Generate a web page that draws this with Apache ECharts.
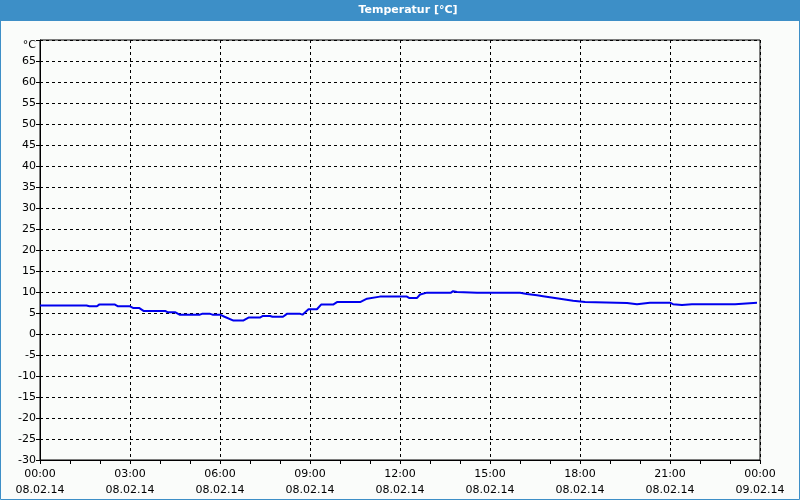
<!DOCTYPE html>
<html>
<head>
<meta charset="utf-8">
<script src="https://cdn.jsdelivr.net/npm/echarts@6/dist/echarts.min.js"></script>
<style>
  html, body { margin: 0; padding: 0; background: #fafcfa; }
  #chart { width: 800px; height: 500px; }
</style>
</head>
<body>
<div id="chart"></div>
<script>
// Messzeitpunkte (Stunden ab 08.02.14 00:00) und Temperatur in °C
var hours = [0, 1.55, 1.65, 1.9, 1.97, 2.5, 2.6, 3.0, 3.1, 3.3, 3.45, 4.17, 4.25, 4.5, 4.65, 5.33, 5.4, 5.67,
    5.75, 6.0, 6.15, 6.45, 6.77, 6.95, 7.33, 7.43, 7.67, 7.75, 8.1, 8.23, 8.67, 8.75, 8.95, 9.23, 9.37, 9.77,
    9.9, 10.67, 10.9, 11.33, 12.23, 12.3, 12.57, 12.67, 12.9, 13.7, 13.77, 13.9, 14.57, 16.0, 16.23, 16.57,
    16.77, 17.33, 17.77, 18.17, 19.57, 19.9, 20.33, 21.0, 21.1, 21.4, 21.73, 23.17, 23.23, 23.9];
var temps = [6.8, 6.8, 6.6, 6.6, 7.0, 7.0, 6.6, 6.6, 6.2, 6.2, 5.5, 5.5, 5.2, 5.2, 4.6, 4.6, 4.8, 4.8,
    4.6, 4.6, 4.1, 3.2, 3.2, 3.9, 3.9, 4.3, 4.3, 4.1, 4.1, 4.8, 4.8, 4.6, 5.9, 5.9, 7.0, 7.0,
    7.6, 7.6, 8.4, 8.9, 8.9, 8.6, 8.6, 9.4, 9.85, 9.85, 10.2, 10.0, 9.8, 9.8, 9.5, 9.2,
    9.0, 8.4, 7.9, 7.6, 7.4, 7.1, 7.45, 7.45, 7.1, 6.9, 7.1, 7.1, 7.45, 7.45];
var yMin = -30, yMax = 70, yStep = 5;
var xMin = 0, xMax = 24, xStep = 3;
var dayLabels = ['08.02.14', '09.02.14'];

var points = [];
for (var i = 0; i < hours.length; i++) {
    points.push([hours[i], temps[i]]);
}

function pad(n) { return (n < 10 ? '0' : '') + n; }

var myChart = echarts.init(document.getElementById('chart'));
var option = {
    backgroundColor: '#fafcfa',
    animation: false,
    textStyle: { fontFamily: 'DejaVu Sans' },
    graphic: [
        { type: 'rect', shape: { x: 0, y: 0, width: 800, height: 21 }, style: { fill: '#3d8fc7' }, z: 0 },
        { type: 'rect', shape: { x: 0.5, y: 0.5, width: 799, height: 499 }, style: { fill: null, stroke: '#3d8fc7', lineWidth: 1 }, z: 0 },
        { type: 'text', x: 408, y: 10.5, style: { text: 'Temperatur [°C]', fill: '#fff', font: 'bold 11px DejaVu Sans', align: 'center', verticalAlign: 'middle' }, z: 1 }
    ],
    grid: { left: 40, right: 40, top: 40, bottom: 40, show: true, borderColor: '#000', borderWidth: 1 },
    xAxis: {
        type: 'value',
        min: xMin,
        max: xMax,
        interval: xStep,
        axisLine: { show: true, onZero: false, lineStyle: { color: '#000', width: 1 } },
        axisTick: { show: true, length: 4, lineStyle: { color: '#000' } },
        minorTick: { show: true, splitNumber: 3, length: 4, lineStyle: { color: '#000' } },
        axisLabel: {
            color: '#000',
            fontSize: 11,
            lineHeight: 16,
            margin: 6,
            formatter: function (v) {
                return pad(v % 24) + ':00\n' + dayLabels[v >= 24 ? 1 : 0];
            }
        },
        splitLine: { show: true, lineStyle: { color: '#000', type: [3, 3], width: 1 } }
    },
    yAxis: {
        type: 'value',
        min: yMin,
        max: yMax,
        interval: yStep,
        axisLine: { show: true, onZero: false, lineStyle: { color: '#000', width: 1 } },
        axisTick: { show: true, length: 4, lineStyle: { color: '#000' } },
        axisLabel: {
            color: '#000',
            fontSize: 11,
            margin: 4,
            formatter: function (v) {
                return v === yMax ? '{u|°C}' : String(v);
            },
            rich: { u: { fontSize: 11, color: '#000', padding: [10, 0, 0, 0] } }
        },
        splitLine: { show: true, lineStyle: { color: '#000', type: [3, 3], width: 1 } }
    },
    series: [
        {
            name: 'Temperatur',
            type: 'line',
            data: points,
            showSymbol: false,
            lineStyle: { color: '#0000ee', width: 2 },
            itemStyle: { color: '#0000ee' }
        }
    ]
};
myChart.setOption(option);
</script>
</body>
</html>
